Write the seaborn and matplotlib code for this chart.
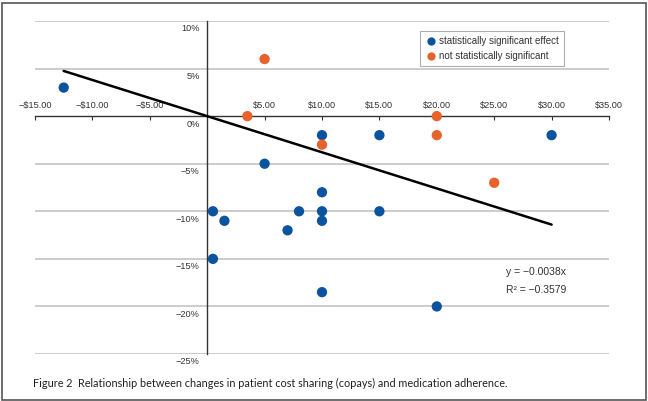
import seaborn as sns
import matplotlib.pyplot as plt
import matplotlib.ticker as mticker
import matplotlib.transforms as mtrans
import pandas as pd
from matplotlib.patches import Rectangle

# copay change ($) and adherence change (%)
sig_x = [-12.5, 5, 10, 15, 30, 10, 0.5, 1.5, 7, 8, 10, 10, 15, 0.5, 10, 20]
sig_y = [3, -5, -2, -2, -2, -8, -10, -11, -12, -10, -10, -11, -10, -15, -18.5, -20]
nonsig_x = [5, 3.5, 10, 20, 20, 25]
nonsig_y = [6, 0, -3, 0, -2, -7]

labels = ['statistically significant effect', 'not statistically significant']
colors = ['#0b539e', '#e8622c']
slope = -0.0038
r2 = -0.3579

df = pd.DataFrame({
    'copay': sig_x + nonsig_x,
    'adherence': sig_y + nonsig_y,
    'group': [labels[0]] * len(sig_x) + [labels[1]] * len(nonsig_x),
})

sns.set_style('white')
plt.rcParams['font.family'] = ['Liberation Sans', 'DejaVu Sans']

fig = plt.figure(figsize=(6.48, 4.01), dpi=100)
ax = fig.add_axes([35 / 648, 1 - 354 / 401, 574 / 648, 333 / 401])

# gridlines
for v in range(-25, 11, 5):
    if v != 0:
        ax.axhline(v, color='#cccccc', lw=1.4, zorder=0)

# trend line y = slope * x over data range
xs = [df['copay'].min(), df['copay'].max()]
trend = pd.DataFrame({'x': xs, 'y': [slope * x * 100 for x in xs]})
sns.lineplot(data=trend, x='x', y='y', color='black', lw=1.8, ax=ax, zorder=3)

sns.scatterplot(data=df, x='copay', y='adherence', hue='group',
                palette=dict(zip(labels, colors)), s=55, edgecolor='none',
                ax=ax, zorder=4)

ax.set_xlim(-15, 35)
ax.set_ylim(-25, 10)
ax.set_xlabel('')
ax.set_ylabel('')

ax.spines['right'].set_visible(False)
ax.spines['top'].set_position(('data', 0))
ax.spines['top'].set_visible(False)
ax.spines['bottom'].set_position(('data', 0))
ax.spines['left'].set_position(('data', 0))
for s in ['bottom', 'left']:
    ax.spines[s].set_color('#333333')
    ax.spines[s].set_linewidth(1)

xticks = [-15, -10, -5, 5, 10, 15, 20, 25, 30, 35]
ax.set_xticks(xticks)
ax.xaxis.set_major_formatter(mticker.FuncFormatter(
    lambda v, p: ('\u2212$' if v < 0 else '$') + f'{abs(v):.2f}'))
ax.tick_params(axis='x', bottom=True, top=False, labelbottom=False, labeltop=True,
               direction='out', length=3, width=0.8, color='#333333',
               labelsize=6.6, labelcolor='#333333', pad=1.5)

ax.set_yticks(range(-25, 11, 5))
ax.yaxis.set_major_formatter(mticker.FuncFormatter(
    lambda v, p: ('\u2212' if v < 0 else '') + f'{abs(v):.0f}%'))
ax.tick_params(axis='y', left=False, labelsize=6.6, labelcolor='#333333', pad=2)
shift = mtrans.ScaledTranslation(0, -2.5 / 72, fig.dpi_scale_trans)
for lab in ax.get_yticklabels():
    lab.set_va('top')
    lab.set_transform(lab.get_transform() + shift)

leg = ax.legend(loc='upper right', bbox_to_anchor=(0.93, 0.985), fontsize=7,
                frameon=True, fancybox=False, edgecolor='#999999',
                handletextpad=0.35, borderpad=0.55, labelspacing=0.5,
                markerscale=0.8, handlelength=1.0)
leg.get_frame().set_linewidth(0.8)
for t in leg.get_texts():
    t.set_color('#333333')

ax.text(26, -16.4, f'y = \u2212{abs(slope):.4f}x', fontsize=7.5,
        color='#333333', va='center', ha='left')
ax.text(26, -18.3, f'R\u00b2 = \u2212{abs(r2):.4f}', fontsize=7.5,
        color='#333333', va='center', ha='left')

fig.text(33 / 648, 1 - 383 / 401,
         'Figure 2  Relationship between changes in patient cost sharing (copays) and medication adherence.',
         fontsize=7.85, family=['Lato', 'DejaVu Sans'], color='#222222', va='center')

fig.patches.append(Rectangle((1.5 / 648, 1.5 / 401), 644 / 648, 397 / 401,
                             transform=fig.transFigure, fill=False,
                             edgecolor='#555555', lw=1.2))

fig.savefig('out.png', dpi=100)
